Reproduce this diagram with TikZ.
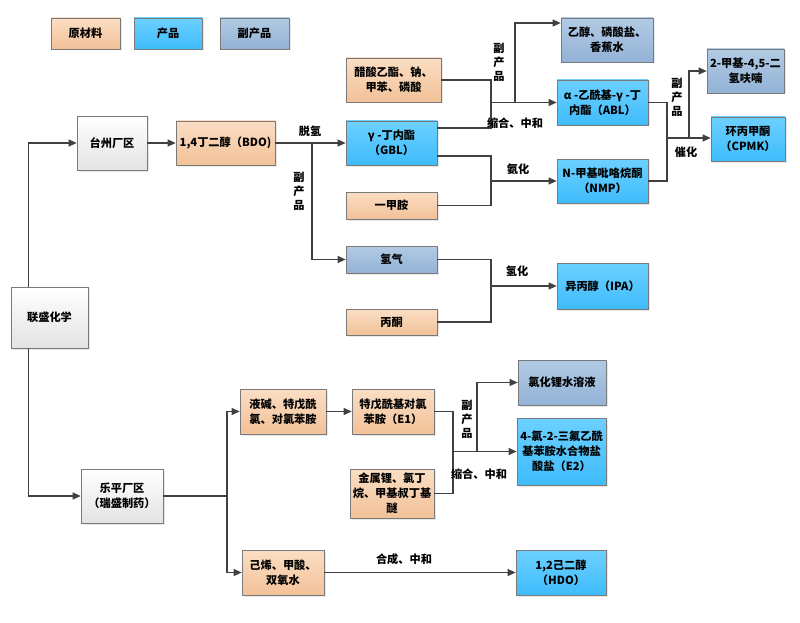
\documentclass[tikz,border=0pt]{standalone}
\usepackage{fontspec}
\setmainfont{Noto Sans CJK SC}
\usetikzlibrary{arrows.meta,shadows}
\definecolor{rawtop}{HTML}{FBDEC4}
\definecolor{rawbot}{HTML}{F2C198}
\definecolor{prodtop}{HTML}{6CD0FF}
\definecolor{prodbot}{HTML}{3FBCFC}
\definecolor{byptop}{HTML}{B2CBE4}
\definecolor{bypbot}{HTML}{93B2D6}
\definecolor{planttop}{HTML}{FFFFFF}
\definecolor{plantbot}{HTML}{E3E3E3}
\definecolor{edge}{HTML}{7A7A7A}
\definecolor{wire}{HTML}{404040}
\tikzset{
  box/.style={draw=edge, line width=0.7pt, align=center, inner sep=1pt,
    font=\fontsize{11.2}{15}\selectfont\bfseries,
    drop shadow={opacity=0.18, shadow xshift=1.5pt, shadow yshift=-1.5pt}},
  raw/.style={box, top color=rawtop, bottom color=rawbot},
  prod/.style={box, top color=prodtop, bottom color=prodbot},
  byp/.style={box, top color=byptop, bottom color=bypbot},
  plant/.style={box, top color=planttop, bottom color=plantbot},
  lbl/.style={font=\fontsize{11.2}{14}\selectfont\bfseries, inner sep=0pt, align=center},
  wireln/.style={draw=wire, line width=1.1pt},
  arr/.style={wireln, -{Triangle[length=8pt,width=7pt]}},
}
\begin{document}
\begin{tikzpicture}[x=1pt,y=-1pt]
\useasboundingbox (0,0) rectangle (800,623);
% legend
\node[raw, minimum width=69pt, minimum height=31pt] (leg1) at (85.5,33.5) {原材料};
\node[prod, minimum width=68pt, minimum height=31pt] (leg2) at (168,33.5) {产品};
\node[byp, minimum width=69pt, minimum height=31pt] (leg3) at (254.5,33.5) {副产品};
% nodes
\node[plant, minimum width=77pt, minimum height=61pt] (ls) at (49.5,317.5) {联盛化学};
\node[plant, minimum width=70pt, minimum height=54pt] (tz) at (112,143) {台州厂区};
\node[raw, minimum width=99pt, minimum height=44pt] (bdo) at (225.5,143) {1,4丁二醇（BDO)};
\node[prod, minimum width=91pt, minimum height=44pt] (gbl) at (391.5,143) {γ -丁内酯\\（GBL）};
\node[byp, minimum width=91pt, minimum height=27pt] (h2) at (391.5,259.5) {氢气};
\node[raw, minimum width=91pt, minimum height=26pt] (acetone) at (391.5,322) {丙酮};
\node[prod, minimum width=91pt, minimum height=46pt] (ipa) at (602.5,286) {异丙醇（IPA）};
\node[raw, minimum width=91pt, minimum height=27pt] (mma) at (391.5,205.5) {一甲胺};
\node[prod, minimum width=91pt, minimum height=44pt] (nmp) at (602.5,181) {N-甲基吡咯烷酮\\（NMP）};
\node[raw, minimum width=95pt, minimum height=44pt] (ea) at (393.5,80) {醋酸乙酯、钠、\\甲苯、磷酸};
\node[byp, minimum width=92pt, minimum height=44pt] (etoh) at (607,40) {乙醇、磷酸盐、\\香蕉水};
\node[prod, minimum width=91pt, minimum height=45pt] (abl) at (602.5,102.5) {α -乙酰基-γ -丁\\内酯（ABL）};
\node[byp, minimum width=77pt, minimum height=44pt] (mdf) at (745.5,71) {2-甲基-4,5-二\\氢呋喃};
\node[prod, minimum width=74pt, minimum height=44pt] (cpmk) at (748,139) {环丙甲酮\\（CPMK）};
\node[plant, minimum width=82pt, minimum height=54pt] (lp) at (122,496) {乐平厂区\\（瑞盛制药）};
\node[raw, minimum width=86pt, minimum height=45pt] (lj) at (283,411.5) {液碱、特戊酰\\氯、对氯苯胺};
\node[raw, minimum width=82pt, minimum height=45pt] (e1) at (393,411.5) {特戊酰基对氯\\苯胺（E1）};
\node[raw, minimum width=84pt, minimum height=49pt] (li) at (392,493.5) {金属锂、氯丁\\烷、甲基叔丁基\\醚};
\node[byp, minimum width=88pt, minimum height=45pt] (licl) at (562,382.5) {氯化锂水溶液};
\node[prod, minimum width=89pt, minimum height=67pt] (e2) at (561.5,451.5) {4-氯-2-三氟乙酰\\基苯胺水合物盐\\酸盐（E2）};
\node[raw, minimum width=82pt, minimum height=45pt] (hx) at (283,572.5) {己烯、甲酸、\\双氧水};
\node[prod, minimum width=90pt, minimum height=45pt] (hdo) at (561,572.5) {1,2己二醇\\（HDO）};
% junctions
\coordinate (j1) at (312,143);
\coordinate (j2) at (491,286);
\coordinate (j3) at (491,102.5);
\coordinate (j4) at (491,181);
\coordinate (j5) at (515,102.5);
\coordinate (j6) at (667,138);
\coordinate (j7) at (689,138);
\coordinate (t1) at (227,496);
\coordinate (j8) at (453,451.5);
\coordinate (j9) at (477,451.5);
% connectors top
\draw[arr] ([xshift=18pt]ls.north west) |- (tz.west);
\draw[arr] ([xshift=18pt]ls.south west) |- (lp.west);
\draw[arr] (tz.east) -- (bdo.west);
\draw[arr] (bdo.east) -- (gbl.west);
\draw[arr] (j1) |- (h2.west);
\draw[wireln] (h2.east) -| (j2);
\draw[wireln] (acetone.east) -| (j2);
\draw[arr] (j2) -- (ipa.west);
\draw[wireln] ([yshift=15pt]gbl.east) -| (j3);
\draw[wireln] (ea.east) -| (j3);
\draw[arr] (j3) -- (abl.west);
\draw[arr] (j5) |- ([yshift=17pt]etoh.west);
\draw[wireln] ([yshift=-13pt]gbl.east) -| (j4);
\draw[wireln] (mma.east) -| (j4);
\draw[arr] (j4) -- (nmp.west);
\draw[wireln] (abl.east) -| (j6);
\draw[wireln] (nmp.east) -| (j6);
\draw[arr] (j6) -- (j6 -| cpmk.west);
\draw[arr] (j7) |- (mdf.west);
% connectors bottom
\draw[wireln] (lp.east) -- (t1);
\draw[arr] (t1) |- (lj.west);
\draw[arr] (t1) |- (hx.west);
\draw[arr] (lj.east) -- (e1.west);
\draw[wireln] (e1.east) -| (j8);
\draw[wireln] (li.east) -| (j8);
\draw[arr] (j8) -- (e2.west);
\draw[arr] (j9) |- (licl.west);
\draw[arr] (hx.east) -- (hdo.west);
% labels
\node[lbl] (l1) at (310,131) {脱氢};
\node[lbl] (l2) at (299,191) {副\\产\\品};
\node[lbl] (l3) at (517,271) {氢化};
\node[lbl] (l4) at (515,123) {缩合、中和};
\node[lbl] (l5) at (518,169) {氨化};
\node[lbl] (l6) at (499,62) {副\\产\\品};
\node[lbl] (l7) at (677,97) {副\\产\\品};
\node[lbl] (l8) at (686,152) {催化};
\node[lbl] (l9) at (467,419) {副\\产\\品};
\node[lbl] (l10) at (479,474) {缩合、中和};
\node[lbl] (l11) at (404,559) {合成、中和};
\end{tikzpicture}
\end{document}
